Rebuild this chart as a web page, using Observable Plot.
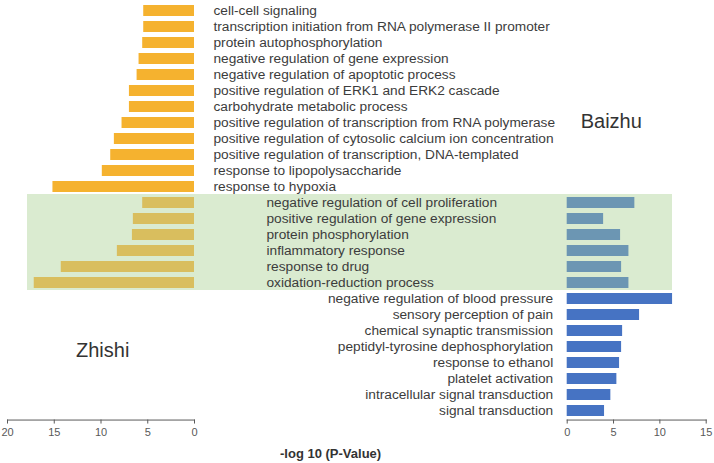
<!DOCTYPE html>
<html><head><meta charset="utf-8">
<script src="https://cdn.jsdelivr.net/npm/d3@7"></script>
<script src="https://cdn.jsdelivr.net/npm/@observablehq/plot@0.6"></script>
<style>
body{margin:0;background:#fff;}
#chart{position:relative;width:714px;height:463px;font-family:"Liberation Sans",Arial,sans-serif;}
#chart svg{position:absolute;left:0;top:0;}
.lbl{position:absolute;white-space:nowrap;color:#333;line-height:20px;}
</style></head><body>
<div id="chart"></div>
<script>
// ---- data ----
const zhishiTerms = [
  "cell-cell signaling",
  "transcription initiation from RNA polymerase II promoter",
  "protein autophosphorylation",
  "negative regulation of gene expression",
  "negative regulation of apoptotic process",
  "positive regulation of ERK1 and ERK2 cascade",
  "carbohydrate metabolic process",
  "positive regulation of transcription from RNA polymerase",
  "positive regulation of cytosolic calcium ion concentration",
  "positive regulation of transcription, DNA-templated",
  "response to lipopolysaccharide",
  "response to hypoxia"
];
const zhishiValues = [5.43, 5.43, 5.54, 5.93, 6.14, 6.96, 6.96, 7.75, 8.57, 8.96, 9.86, 15.14];

const sharedTerms = [
  "negative regulation of cell proliferation",
  "positive regulation of gene expression",
  "protein phosphorylation",
  "inflammatory response",
  "response to drug",
  "oxidation-reduction process"
];
const sharedZhishi = [5.54, 6.54, 6.64, 8.25, 14.25, 17.14];
const sharedBaizhu = [7.3, 3.93, 5.76, 6.66, 5.87, 6.66];

const baizhuTerms = [
  "negative regulation of blood pressure",
  "sensory perception of pain",
  "chemical synaptic transmission",
  "peptidyl-tyrosine dephosphorylation",
  "response to ethanol",
  "platelet activation",
  "intracellular signal transduction",
  "signal transduction"
];
const baizhuValues = [11.37, 7.81, 5.98, 5.87, 5.65, 5.36, 4.71, 4.03];

const zhishiTicks = [0, 5, 10, 15, 20];
const baizhuTicks = [0, 5, 10, 15];

// ---- styling ----
const C = {orange:"#F5B22F", orangeShared:"#D9BE5E", blueShared:"#6C96B3", blue:"#4673C3", band:"#DAEBD0", text:"#3C3C3C", axis:"#595959"};
const W = 714, H = 463, mTop = 0.95, mBottom = 43.45, FS = 13.7;
const allTerms = [...zhishiTerms, ...sharedTerms, ...baizhuTerms];

const leftRows = [
  ...zhishiTerms.map((t,i)=>({term:t, value:zhishiValues[i], color:C.orange})),
  ...sharedTerms.map((t,i)=>({term:t, value:sharedZhishi[i], color:C.orangeShared}))
];
const rightRows = [
  ...sharedTerms.map((t,i)=>({term:t, value:sharedBaizhu[i], color:C.blueShared})),
  ...baizhuTerms.map((t,i)=>({term:t, value:baizhuValues[i], color:C.blue}))
];

const style = {background:"transparent", overflow:"visible", fontFamily:"'Liberation Sans', Arial, sans-serif", fontSize:"11px"};
const yBand = {domain: allTerms, paddingInner:0.34, paddingOuter:0.17, axis:null};

const bg = Plot.plot({
  width: W, height: H, marginLeft: 27, marginRight: 42, marginTop: mTop, marginBottom: mBottom,
  style,
  y: {domain: allTerms, padding: 0, axis: null},
  marks: [Plot.cell(sharedTerms, {y: d=>d, fill: C.band})]
});

const left = Plot.plot({
  width: W, height: H, marginLeft: 7, marginRight: W-194, marginTop: mTop, marginBottom: mBottom,
  style,
  color: {type: "identity"},
  x: {domain: [20, 0]},
  y: yBand,
  marks: [
    Plot.barX(leftRows, {x: "value", y: "term", fill: "color"}),
    Plot.frame({anchor: "bottom", stroke: C.axis}),
    Plot.axisX({ticks: zhishiTicks, tickSize: 4, tickPadding: 4, color: C.axis, label: null}),
    Plot.text(zhishiTerms, {x: 0, y: d=>d, text: d=>d, dx: 19, textAnchor: "start", fontSize: FS, fill: C.text}),
    Plot.text(sharedTerms, {x: 0, y: d=>d, text: d=>d, dx: 72, textAnchor: "start", fontSize: FS, fill: C.text})
  ]
});

const right = Plot.plot({
  width: W, height: H, marginLeft: 566.7, marginRight: 8.3, marginTop: mTop, marginBottom: mBottom,
  style,
  color: {type: "identity"},
  x: {domain: [0, 15]},
  y: yBand,
  marks: [
    Plot.barX(rightRows, {x: "value", y: "term", fill: "color"}),
    Plot.frame({anchor: "bottom", stroke: C.axis}),
    Plot.axisX({ticks: baizhuTicks, tickSize: 4, tickPadding: 4, color: C.axis, label: null}),
    Plot.text(baizhuTerms, {x: 0, y: d=>d, text: d=>d, dx: -14, textAnchor: "end", fontSize: FS, fill: C.text})
  ]
});

const chart = document.getElementById("chart");
chart.append(bg, left, right);

function addLabel(text, left, top, size, weight) {
  const d = document.createElement("div");
  d.className = "lbl";
  d.textContent = text;
  d.style.left = left + "px";
  d.style.top = top + "px";
  d.style.fontSize = size + "px";
  d.style.fontWeight = weight || "normal";
  chart.append(d);
}
addLabel("Zhishi", 76, 340, 20);
addLabel("Baizhu", 580.7, 111.3, 20);
addLabel("-log 10 (P-Value)", 280, 444, 13, "bold");
</script>
</body></html>
